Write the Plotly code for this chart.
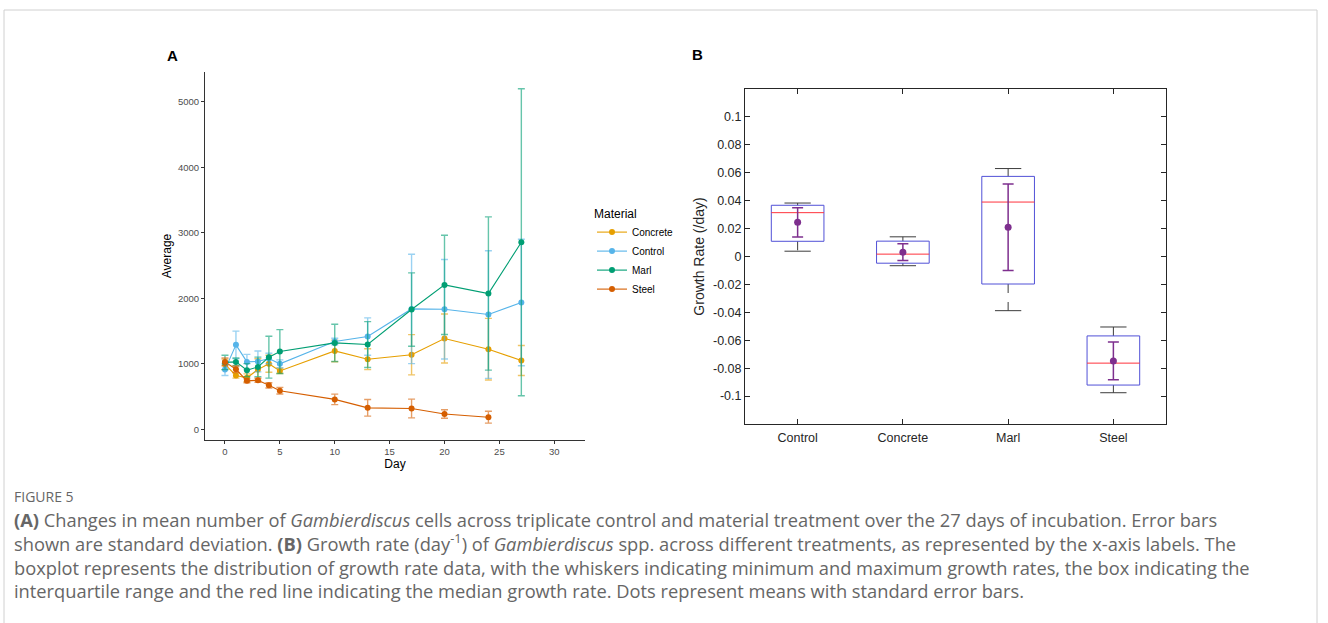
import plotly.graph_objects as go

# ---------------- Panel A data ----------------
days = [0, 1, 2, 3, 4, 5, 10, 13, 17, 20, 24, 27]
concrete_mean = [990, 820, 785, 910, 1000, 890, 1196, 1069, 1137, 1385, 1222, 1049]
concrete_sd = [80, 40, 60, 165, 130, 40, 165, 160, 308, 375, 470, 230]
control_mean = [910, 1288, 1028, 1035, 1080, 998, 1340, 1415, 1837, 1832, 1751, 1935]
control_sd = [90, 210, 115, 160, 80, 60, 50, 285, 835, 760, 975, 965]
marl_mean = [1020, 1028, 901, 950, 1100, 1186, 1318, 1293, 1827, 2204, 2072, 2855]
marl_sd = [110, 60, 100, 150, 320, 335, 285, 350, 560, 758, 1170, 2345]
steel_days = [0, 1, 2, 3, 4, 5, 10, 13, 17, 20, 24]
steel_mean = [1028, 915, 738, 748, 670, 588, 455, 326, 316, 232, 183]
steel_sd = [60, 50, 30, 30, 40, 50, 80, 127, 143, 65, 90]
a_xticks = [0, 5, 10, 15, 20, 25, 30]
a_yticks = [0, 1000, 2000, 3000, 4000, 5000]

# ---------------- Panel B data ----------------
groups = ["Control", "Concrete", "Marl", "Steel"]
q1 = [0.0109, -0.0048, -0.0197, -0.0921]
median = [0.0314, 0.0017, 0.0390, -0.0764]
q3 = [0.0367, 0.0110, 0.0574, -0.0569]
wmin = [0.0038, -0.0066, -0.0388, -0.0976]
wmax = [0.0383, 0.0141, 0.0630, -0.0505]
mean = [0.0245, 0.0031, 0.0209, -0.0748]
se = [0.0105, 0.0060, 0.0310, 0.0135]
b_yticks = [-0.1, -0.08, -0.06, -0.04, -0.02, 0, 0.02, 0.04, 0.06, 0.08, 0.1]
b_yticklabels = ["-0.1", "-0.08", "-0.06", "-0.04", "-0.02", "0", "0.02", "0.04", "0.06", "0.08", "0.1"]

W, H = 1328, 623
def PX(x):
    return x / W
def PY(y):
    return 1 - y / H

PLOT_FONT = "Liberation Sans, Arial, Helvetica, sans-serif"
CAP_FONT = "Open Sans, Noto Sans, sans-serif"

fig = go.Figure()

series = [
    ("Concrete", days, concrete_mean, concrete_sd, "#E69F00", "rgba(230,159,0,0.6)"),
    ("Control", days, control_mean, control_sd, "#56B4E9", "rgba(86,180,233,0.6)"),
    ("Marl", days, marl_mean, marl_sd, "#009E73", "rgba(0,158,115,0.6)"),
    ("Steel", steel_days, steel_mean, steel_sd, "#D55E00", "rgba(213,94,0,0.6)"),
]
for name, xs, ms, sds, col, ecol in series:
    fig.add_trace(go.Scatter(
        x=xs, y=ms, mode="lines+markers", name=name,
        line=dict(color=col, width=1.1), marker=dict(size=6, color=col),
        error_y=dict(type="data", array=sds, visible=True, color=ecol, thickness=1.4, width=3.5),
        xaxis="x", yaxis="y", showlegend=True))

# ---------------- Panel B marks ----------------
pos = [i + 1 for i in range(len(groups))]
BOX_HW = 0.25
CAP_HW = 0.125

wx, wy = [], []
cx, cy = [], []
bx, by = [], []
mx, my = [], []
for p, a, m, b, lo, hi in zip(pos, q1, median, q3, wmin, wmax):
    wx += [p, p, None, p, p, None]
    wy += [b, hi, None, a, lo, None]
    cx += [p - CAP_HW, p + CAP_HW, None, p - CAP_HW, p + CAP_HW, None]
    cy += [hi, hi, None, lo, lo, None]
    bx += [p - BOX_HW, p + BOX_HW, p + BOX_HW, p - BOX_HW, p - BOX_HW, None]
    by += [a, a, b, b, a, None]
    mx += [p - BOX_HW, p + BOX_HW, None]
    my += [m, m, None]

fig.add_trace(go.Scatter(x=wx, y=wy, mode="lines", line=dict(color="rgb(60,60,60)", width=1, dash="dash"),
                         xaxis="x2", yaxis="y2", showlegend=False, hoverinfo="skip"))
fig.add_trace(go.Scatter(x=cx, y=cy, mode="lines", line=dict(color="rgb(60,60,60)", width=1),
                         xaxis="x2", yaxis="y2", showlegend=False, hoverinfo="skip"))
fig.add_trace(go.Scatter(x=bx, y=by, mode="lines", line=dict(color="rgb(80,80,215)", width=1),
                         xaxis="x2", yaxis="y2", showlegend=False, hoverinfo="skip"))
fig.add_trace(go.Scatter(x=mx, y=my, mode="lines", line=dict(color="rgb(255,50,60)", width=1),
                         xaxis="x2", yaxis="y2", showlegend=False, hoverinfo="skip"))
fig.add_trace(go.Scatter(x=pos, y=mean, mode="markers",
                         marker=dict(size=7, color="#7E2F8E"),
                         error_y=dict(type="data", array=se, visible=True, color="#7E2F8E", thickness=1.5, width=5.5),
                         xaxis="x2", yaxis="y2", showlegend=False))

axis_a = dict(showgrid=False, zeroline=False, showline=True, linecolor="#333333", linewidth=1,
              ticks="outside", ticklen=3, tickcolor="#333333", tickwidth=1,
              tickfont=dict(family=PLOT_FONT, size=9.5, color="#4D4D4D"))
axis_b = dict(showgrid=False, zeroline=False, showline=True, linecolor="#262626", linewidth=1,
              ticks="inside", ticklen=5, tickcolor="#262626", tickwidth=1, mirror="ticks",
              tickfont=dict(family=PLOT_FONT, size=12.5, color="#262626"))

fig.update_layout(
    width=W, height=H, margin=dict(l=0, r=0, t=0, b=0),
    paper_bgcolor="white", plot_bgcolor="white",
    font=dict(family=PLOT_FONT),
    xaxis=dict(axis_a, domain=[PX(205), PX(585)], range=[-1.82, 32.8], tickvals=a_xticks,
               title=dict(text="Day", font=dict(size=12, color="black"), standoff=3)),
    yaxis=dict(axis_a, domain=[PY(440), PY(72)], range=[-165, 5455], tickvals=a_yticks,
               title=dict(text="Average", font=dict(size=12, color="black"), standoff=3)),
    xaxis2=dict(axis_b, domain=[PX(745), PX(1166)], range=[0.5, 4.5], tickvals=pos, ticktext=groups,
                anchor="y2", ticklabelstandoff=2),
    yaxis2=dict(axis_b, domain=[PY(424), PY(89)], range=[-0.12, 0.12], tickvals=b_yticks,
                ticktext=b_yticklabels, anchor="x2",
                title=dict(text="Growth Rate (/day)", font=dict(size=14, color="#262626"), standoff=5)),
    legend=dict(x=PX(592), y=PY(202), xanchor="left", yanchor="top",
                title=dict(text="Material", font=dict(size=12, color="black")),
                font=dict(size=10, color="black"), bgcolor="rgba(0,0,0,0)", itemwidth=30),
    showlegend=True,
)

# Panel labels
fig.add_annotation(text="<b>A</b>", x=PX(172), y=PY(55), xref="paper", yref="paper",
                   xanchor="center", yanchor="middle",
                   showarrow=False, font=dict(size=15, color="black", family=PLOT_FONT))
fig.add_annotation(text="<b>B</b>", x=PX(697), y=PY(54), xref="paper", yref="paper",
                   xanchor="center", yanchor="middle",
                   showarrow=False, font=dict(size=15, color="black", family=PLOT_FONT))

# Caption
caption_lines = [
    "<b>(A)</b> Changes in mean number of <i>Gambierdiscus</i> cells across triplicate control and material treatment over the 27 days of incubation. Error bars",
    "shown are standard deviation. <b>(B)</b> Growth rate (day<sup>-1</sup>) of <i>Gambierdiscus</i> spp. across different treatments, as represented by the x-axis labels. The",
    "boxplot represents the distribution of growth rate data, with the whiskers indicating minimum and maximum growth rates, the box indicating the",
    "interquartile range and the red line indicating the median growth rate. Dots represent means with standard error bars.",
]
fig.add_annotation(text="FIGURE 5", x=PX(12), y=PY(496), xref="paper", yref="paper", xanchor="left",
                   yanchor="middle", showarrow=False, font=dict(size=14, color="#666666", family=CAP_FONT))
fig.add_annotation(text="<br>".join(caption_lines), x=PX(12), y=PY(555), xref="paper", yref="paper",
                   xanchor="left", yanchor="middle", align="left", showarrow=False,
                   font=dict(size=18.3, color="#666666", family=CAP_FONT))

# Outer frame
fig.add_shape(type="rect", xref="paper", yref="paper", x0=PX(4), x1=PX(1317), y0=PY(640), y1=PY(10),
              line=dict(color="#d0d0d0", width=1), fillcolor="rgba(0,0,0,0)", layer="below")

fig.write_html("out.html")
